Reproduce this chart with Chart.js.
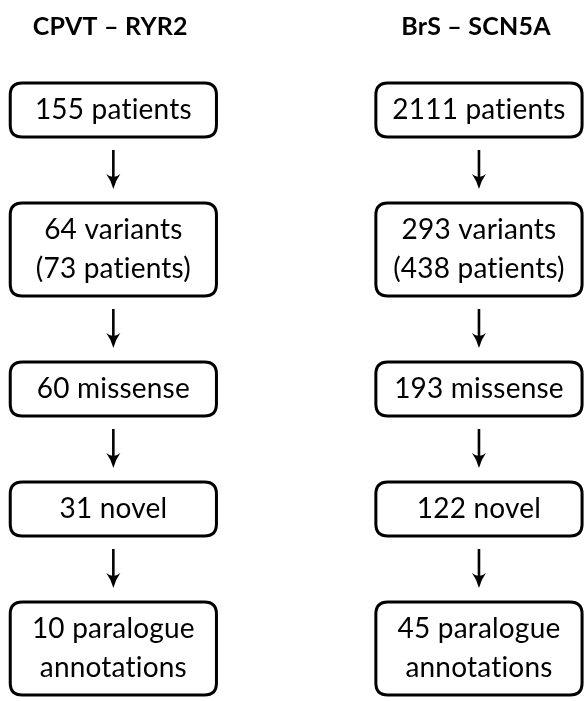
<!DOCTYPE html>
<html>
<head>
<meta charset="utf-8">
<script src="https://cdn.jsdelivr.net/npm/chart.js@4"></script>
<style>
  html, body { margin: 0; padding: 0; background: #fff; }
  #wrap { width: 585px; height: 701px; }
</style>
</head>
<body>
<div id="wrap"><canvas id="flowChart"></canvas></div>
<script>
// columns of the flow diagram
const columns = ["CPVT \u2013 RYR2", "BrS \u2013 SCN5A"];

// counts at each filtering step
const cpvtCounts = [155, 64, 60, 31, 10];
const brsCounts = [2111, 293, 193, 122, 45];
const cpvtVariantPatients = 73;
const brsVariantPatients = 438;

function stepLabels(counts, variantPatients) {
    return [
        [counts[0] + " patients"],
        [counts[1] + " variants", "(" + variantPatients + " patients)"],
        [counts[2] + " missense"],
        [counts[3] + " novel"],
        [counts[4] + " paralogue", "annotations"]
    ];
}

const labels = [stepLabels(cpvtCounts, cpvtVariantPatients), stepLabels(brsCounts, brsVariantPatients)];

// layout, in y-scale units
const TOP = 83, LINE = 39, PAD = 15, GAP = 66;
const BOX_HALF_W = 0.282;

function boxHeight(lines) { return lines * LINE + PAD; }

// y centre of every step, stacked from the line counts
const stepCentres = [];
let cursor = TOP;
labels[0].forEach(function(lines) {
    const h = boxHeight(lines.length);
    stepCentres.push(cursor + h / 2);
    cursor += h + GAP;
});

const datasets = columns.map(function(name, c) {
    return {
        label: name,
        data: labels[c].map(function(lines, i) { return { x: c, y: stepCentres[i] }; }),
        pointRadius: 0,
        showLine: false
    };
});

function roundRect(ctx, x, y, w, h, r) {
    ctx.beginPath();
    ctx.moveTo(x + r, y);
    ctx.lineTo(x + w - r, y);
    ctx.quadraticCurveTo(x + w, y, x + w, y + r);
    ctx.lineTo(x + w, y + h - r);
    ctx.quadraticCurveTo(x + w, y + h, x + w - r, y + h);
    ctx.lineTo(x + r, y + h);
    ctx.quadraticCurveTo(x, y + h, x, y + h - r);
    ctx.lineTo(x, y + r);
    ctx.quadraticCurveTo(x, y, x + r, y);
    ctx.closePath();
}

function arrow(ctx, x, y1, y2) {
    ctx.beginPath();
    ctx.moveTo(x, y1);
    ctx.lineTo(x, y2 - 6);
    ctx.lineWidth = 2.6;
    ctx.stroke();
    ctx.beginPath();
    ctx.moveTo(x - 7, y2 - 15);
    ctx.quadraticCurveTo(x - 2, y2 - 8, x, y2);
    ctx.quadraticCurveTo(x + 2, y2 - 8, x + 7, y2 - 15);
    ctx.quadraticCurveTo(x, y2 - 9, x - 7, y2 - 15);
    ctx.closePath();
    ctx.fill();
}

const flowPlugin = {
    id: "flowPlugin",
    afterDatasetsDraw(chart) {
        const ctx = chart.ctx;
        const xs = chart.scales.x, ys = chart.scales.y;
        ctx.save();
        ctx.strokeStyle = "#000";
        ctx.fillStyle = "#000";
        ctx.textAlign = "center";
        ctx.textBaseline = "middle";
        // tiny spacing keeps Lato from joining "ti" into a ligature
        ctx.letterSpacing = "0.2px";

        columns.forEach(function(name, c) {
            const meta = chart.getDatasetMeta(c);
            const cx = xs.getPixelForValue(c);
            const left = xs.getPixelForValue(c - BOX_HALF_W);
            const right = xs.getPixelForValue(c + BOX_HALF_W);

            ctx.font = "bold 25px Lato";
            ctx.fillText(name, cx - 3, ys.getPixelForValue(27));

            meta.data.forEach(function(pt, i) {
                const lines = labels[c][i];
                const h = boxHeight(lines.length);
                const top = ys.getPixelForValue(stepCentres[i] - h / 2);
                const bottom = ys.getPixelForValue(stepCentres[i] + h / 2);
                ctx.lineWidth = 3;
                roundRect(ctx, left, top, right - left, bottom - top, 12);
                ctx.stroke();

                ctx.font = "28px Lato";
                const lh = ys.getPixelForValue(LINE) - ys.getPixelForValue(0);
                lines.forEach(function(t, k) {
                    ctx.fillText(t, pt.x, pt.y + (k - (lines.length - 1) / 2) * lh);
                });

                if (i < meta.data.length - 1) {
                    const a1 = ys.getPixelForValue(stepCentres[i] + h / 2 + 13);
                    const a2 = ys.getPixelForValue(stepCentres[i] + h / 2 + GAP - 14);
                    arrow(ctx, cx, a1, a2);
                }
            });
        });
        ctx.restore();
    }
};

new Chart(document.getElementById("flowChart"), {
    type: "scatter",
    data: { datasets: datasets },
    options: {
        responsive: true,
        maintainAspectRatio: false,
        animation: false,
        layout: { padding: 0 },
        plugins: { legend: { display: false }, tooltip: { enabled: false } },
        scales: {
            x: { type: "linear", display: false, min: -0.31, max: 1.29 },
            y: { type: "linear", display: false, reverse: true, min: 0, max: 701 }
        }
    },
    plugins: [flowPlugin]
});
</script>
</body>
</html>
